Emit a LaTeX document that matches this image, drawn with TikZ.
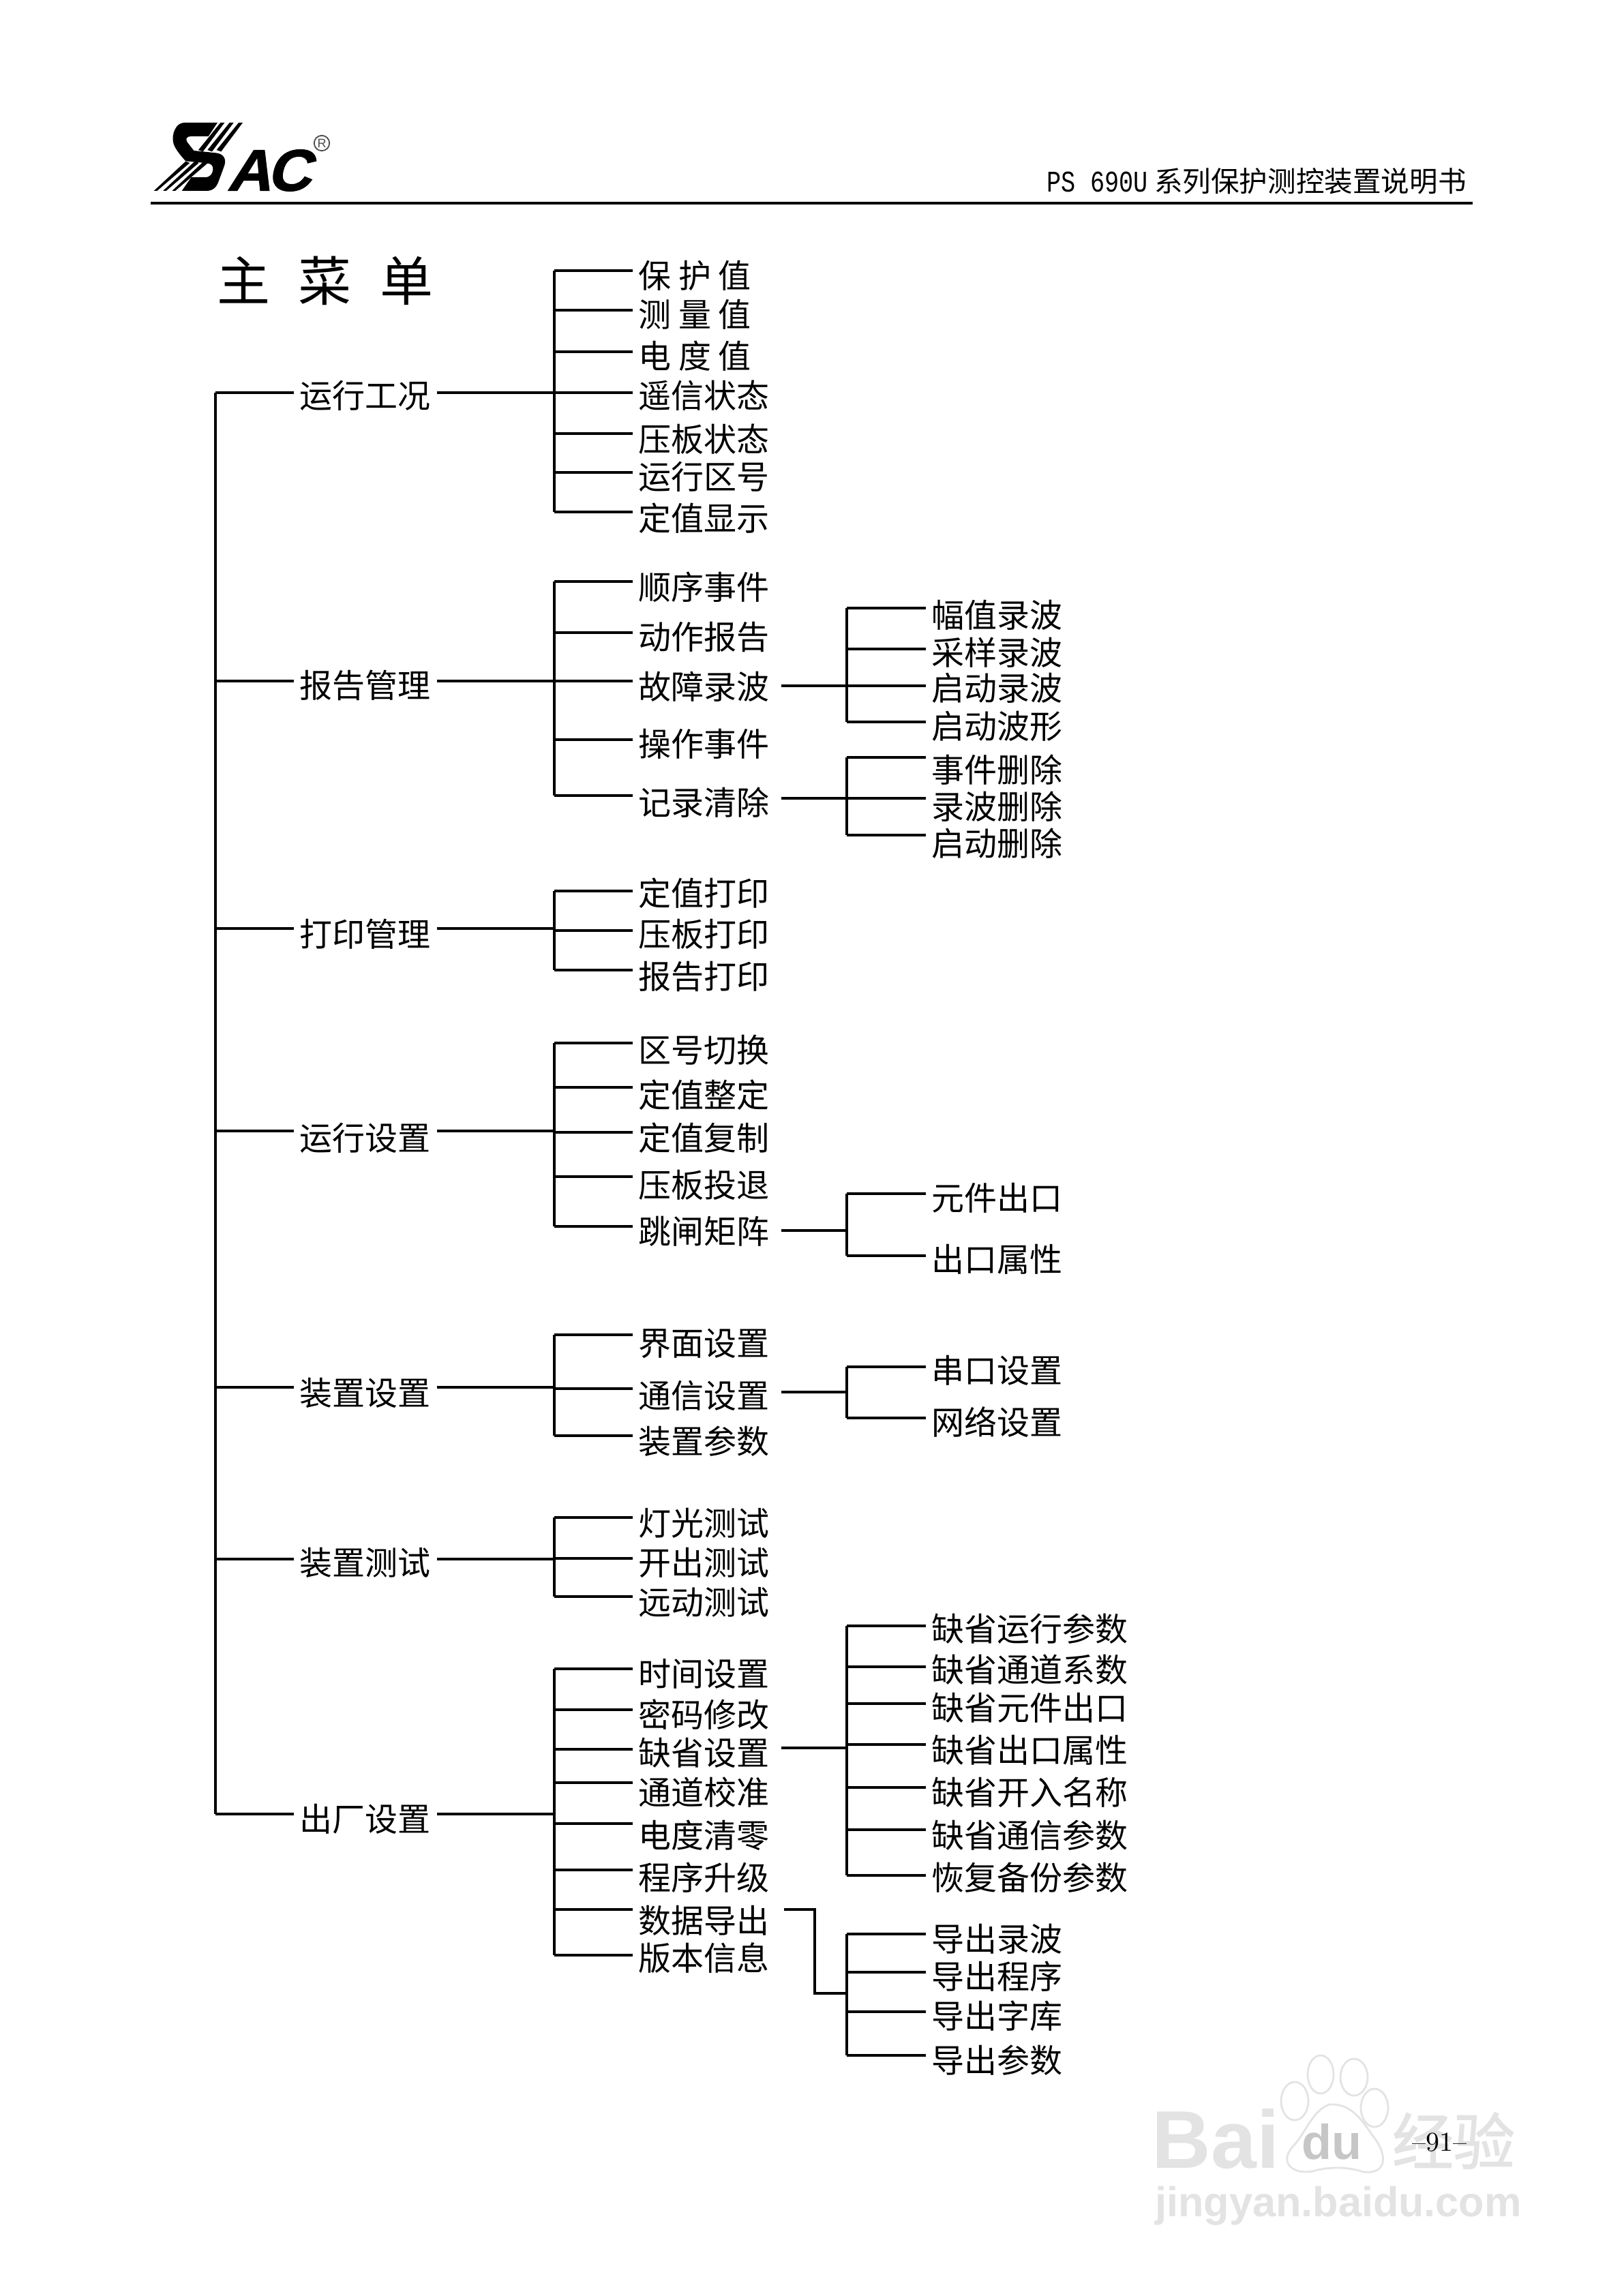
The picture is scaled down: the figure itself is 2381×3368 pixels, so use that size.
\documentclass[tikz,border=0pt]{standalone}
\usepackage{fontspec}
\setmainfont{Noto Sans CJK SC}
\newfontfamily\hdmono[FakeStretch=0.8]{Liberation Mono}
\newfontfamily\markfont{Liberation Sans}
\newfontfamily\logoac[FakeSlant=.25,FakeBold=1.5]{Liberation Sans}
\newfontfamily\pgfont{Latin Modern Roman}
\newfontfamily\wmcjk[FakeBold=1.5]{Noto Sans CJK SC}
\definecolor{wm}{gray}{0.89}
\tikzset{
  link/.style={line width=1pt,black,line cap=butt,line join=miter},
  label/.style={font=\fontsize{12}{12}\selectfont,inner xsep=2pt,inner ysep=0pt,anchor=west,text height=.88em,text depth=.12em,text=black},
  titletext/.style={font=\fontsize{19.5}{19.5}\selectfont,inner sep=0pt,anchor=center},
  wmline/.style={draw=wm,line width=.7pt,fill=white},
  wmtext/.style={text=wm,inner sep=0pt,anchor=center}
}
\newcommand{\leafnode}[6]{% name, trunk x, line y, text left, text y, text
  \coordinate (#1s) at (#2,#3);
  \node[label] (#1) at ({#4-10},{#5+2.5}) {#6};
  \draw[link] (#1s) -- (#1s -| #1.west);
}
\newcommand{\sx}{\hspace{2.6pt}}
\begin{document}
\begin{tikzpicture}[x=.25pt,y=-.25pt]
\useasboundingbox[fill=white] (0,0) rectangle (2381,3368);

% watermark
\node[wmtext,font=\markfont\bfseries\fontsize{30}{30}\selectfont] (wmbai) at (1783,3138) {Bai};
\node[wmtext,font=\wmcjk\fontsize{22.5}{22.5}\selectfont] (wmjy) at (2132,3140) {经验};
\node[wmtext,font=\markfont\bfseries\fontsize{15.3}{15.3}\selectfont] (wmurl) at (1963,3236) {jingyan.baidu.com};
\draw[wmline] (1899,3082) ellipse (20 and 28);
\draw[wmline] (1937,3043) ellipse (19 and 28);
\draw[wmline] (1986,3047) ellipse (20 and 27);
\draw[wmline] (2016,3092) ellipse (20 and 28);
\draw[wmline] (1950,3087) .. controls (1925,3095) and (1915,3130) .. (1895,3150)
  .. controls (1875,3175) and (1900,3190) .. (1925,3185)
  .. controls (1950,3178) and (1975,3178) .. (2000,3186)
  .. controls (2035,3190) and (2035,3160) .. (2015,3135)
  .. controls (2000,3115) and (1985,3085) .. (1950,3087) -- cycle;
\node[wmtext,text=gray!45,font=\markfont\bfseries\fontsize{18}{18}\selectfont] (wmdu) at (1953,3142) {du};

% logo: S monogram and stripes
\begin{scope}[shift={(215,165)},x=.25pt/3,y=-.25pt/3]
  \fill[black] (165,45) -- (312,45) -- (272,105) -- (195,105)
    .. controls (175,105) and (170,118) .. (180,132)
    -- (208,168) -- (305,178)
    .. controls (340,182) and (352,205) .. (342,235)
    -- (318,300)
    .. controls (308,330) and (292,345) .. (262,345)
    -- (155,345) -- (197,285) -- (258,285)
    .. controls (280,285) and (290,270) .. (292,252)
    .. controls (294,235) and (285,225) .. (265,223)
    -- (172,214)
    .. controls (150,190) and (125,160) .. (118,135)
    .. controls (108,95) and (130,45) .. (165,45) -- cycle;
  \foreach \dx in {0,40,80}{
    \fill[black] ({325+\dx},45) -- ({343+\dx},45) -- ({248+\dx},172) -- ({228+\dx},165) -- cycle;
  }
  \foreach \dx in {0,40,80}{
    \fill[black] ({32+\dx},345) -- ({46+\dx},345) -- ({190+\dx},222) -- ({172+\dx},215) -- cycle;
  }
\end{scope}
\node[inner sep=0pt,anchor=center,font=\logoac\bfseries\fontsize{21.5}{21.5}\selectfont,xscale=1.04] (logoAC) at (394,250) {A\kern-1.5pt C};
\node[circle,draw=gray!60!black,line width=.45pt,inner sep=0pt,minimum size=5.6pt,font=\markfont\fontsize{4.5}{4.5}\selectfont,text=gray!60!black] (logoR) at (472,210) {R};

% header
\node[anchor=west,inner sep=0pt,font=\fontsize{10.4}{10.4}\selectfont] (hdr) at (1535,266) {{\hdmono\fontsize{11}{11}\selectfont PS 690U} 系列保护测控装置说明书};
\coordinate (rl) at (221,298);
\coordinate (rr) at (2160,298);
\draw[line width=1pt] (rl) -- (rr);

% title
\node[titletext] (title) at (477,412) {主\hspace{10.5pt}菜\hspace{10.5pt}单};

% level 1
\leafnode{ra}{316}{576}{441}{581}{运行工况}
\leafnode{rb}{316}{999}{441}{1006}{报告管理}
\leafnode{rc}{316}{1362}{441}{1371}{打印管理}
\leafnode{rd}{316}{1659}{441}{1670}{运行设置}
\leafnode{re}{316}{2035}{441}{2044}{装置设置}
\leafnode{rf}{316}{2287}{441}{2293}{装置测试}
\leafnode{rg}{316}{2661}{441}{2669}{出厂设置}
\draw[link] (ras) -- (rgs);

% group A
\leafnode{aa}{813}{397}{938}{405}{保\sx 护\sx 值}
\leafnode{ab}{813}{455}{938}{462}{测\sx 量\sx 值}
\leafnode{ac}{813}{516}{938}{523}{电\sx 度\sx 值}
\leafnode{ad}{813}{576}{938}{581}{遥信状态}
\leafnode{ae}{813}{636}{938}{645}{压板状态}
\leafnode{af}{813}{693}{938}{700}{运行区号}
\leafnode{ag}{813}{751}{938}{761}{定值显示}
\draw[link] (aas) -- (ags);
\draw[link] (ra.east |- ras) -- (ras -| aas);

% group B
\leafnode{ba}{813}{853}{938}{862}{顺序事件}
\leafnode{bb}{813}{928}{938}{935}{动作报告}
\leafnode{bc}{813}{999}{938}{1008}{故障录波}
\leafnode{bd}{813}{1085}{938}{1092}{操作事件}
\leafnode{be}{813}{1167}{938}{1178}{记录清除}
\draw[link] (bas) -- (bes);
\draw[link] (rb.east |- rbs) -- (rbs -| bas);

\leafnode{bca}{1242}{892}{1368}{903}{幅值录波}
\leafnode{bcb}{1242}{952}{1368}{958}{采样录波}
\leafnode{bcc}{1242}{1006}{1368}{1010}{启动录波}
\leafnode{bcd}{1242}{1059}{1368}{1066}{启动波形}
\draw[link] (bcas) -- (bcds);
\draw[link] ([xshift=2pt]bc.east |- bccs) -- (bccs);

\leafnode{bea}{1242}{1111}{1368}{1130}{事件删除}
\leafnode{beb}{1242}{1171}{1368}{1184}{录波删除}
\leafnode{bec}{1242}{1225}{1368}{1238}{启动删除}
\draw[link] (beas) -- (becs);
\draw[link] ([xshift=2pt]be.east |- bebs) -- (bebs);

% group C
\leafnode{ca}{813}{1307}{938}{1311}{定值打印}
\leafnode{cb}{813}{1365}{938}{1371}{压板打印}
\leafnode{cc}{813}{1423}{938}{1433}{报告打印}
\draw[link] (cas) -- (ccs);
\draw[link] (rc.east |- rcs) -- (rcs -| cas);

% group D
\leafnode{da}{813}{1530}{938}{1541}{区号切换}
\leafnode{db}{813}{1595}{938}{1607}{定值整定}
\leafnode{dc}{813}{1661}{938}{1670}{定值复制}
\leafnode{dd}{813}{1726}{938}{1739}{压板投退}
\leafnode{de}{813}{1799}{938}{1807}{跳闸矩阵}
\draw[link] (das) -- (des);
\draw[link] (rd.east |- rds) -- (rds -| das);

\leafnode{dea}{1242}{1751}{1368}{1758}{元件出口}
\leafnode{deb}{1242}{1842}{1368}{1848}{出口属性}
\draw[link] (deas) -- (debs);
\coordinate (dem) at (1242,1805);
\draw[link] ([xshift=2pt]de.east |- dem) -- (dem);

% group E
\leafnode{ea}{813}{1958}{938}{1971}{界面设置}
\leafnode{eb}{813}{2037}{938}{2048}{通信设置}
\leafnode{ec}{813}{2106}{938}{2115}{装置参数}
\draw[link] (eas) -- (ecs);
\draw[link] (re.east |- res) -- (res -| eas);

\leafnode{eba}{1242}{2005}{1368}{2011}{串口设置}
\leafnode{ebb}{1242}{2080}{1368}{2087}{网络设置}
\draw[link] (ebas) -- (ebbs);
\coordinate (ebm) at (1242,2042);
\draw[link] ([xshift=2pt]eb.east |- ebm) -- (ebm);

% group F
\leafnode{fa}{813}{2226}{938}{2235}{灯光测试}
\leafnode{fb}{813}{2286}{938}{2293}{开出测试}
\leafnode{fc}{813}{2342}{938}{2351}{远动测试}
\draw[link] (fas) -- (fcs);
\draw[link] (rf.east |- rfs) -- (rfs -| fas);

% group G
\leafnode{ga}{813}{2448}{938}{2456}{时间设置}
\leafnode{gb}{813}{2508}{938}{2516}{密码修改}
\leafnode{gc}{813}{2566}{938}{2572}{缺省设置}
\leafnode{gd}{813}{2615}{938}{2630}{通道校准}
\leafnode{ge}{813}{2675}{938}{2693}{电度清零}
\leafnode{gf}{813}{2743}{938}{2755}{程序升级}
\leafnode{gg}{813}{2801}{938}{2818}{数据导出}
\leafnode{gh}{813}{2868}{938}{2873}{版本信息}
\draw[link] (gas) -- (ghs);
\draw[link] (rg.east |- rgs) -- (rgs -| gas);

\leafnode{gca}{1242}{2385}{1368}{2390}{缺省运行参数}
\leafnode{gcb}{1242}{2445}{1368}{2450}{缺省通道系数}
\leafnode{gcc}{1242}{2499}{1368}{2506}{缺省元件出口}
\leafnode{gcd}{1242}{2559}{1368}{2568}{缺省出口属性}
\leafnode{gce}{1242}{2622}{1368}{2630}{缺省开入名称}
\leafnode{gcf}{1242}{2684}{1368}{2693}{缺省通信参数}
\leafnode{gcg}{1242}{2751}{1368}{2755}{恢复备份参数}
\draw[link] (gcas) -- (gcgs);
\coordinate (gcm) at (1242,2564);
\draw[link] ([xshift=2pt]gc.east |- gcm) -- (gcm);

\leafnode{gga}{1242}{2837}{1368}{2845}{导出录波}
\leafnode{ggb}{1242}{2893}{1368}{2900}{导出程序}
\leafnode{ggc}{1242}{2951}{1368}{2958}{导出字库}
\leafnode{ggd}{1242}{3015}{1368}{3023}{导出参数}
\draw[link] (ggas) -- (ggds);
\coordinate (ggk) at (1195,2924);
\draw[link] ([xshift=3pt]gg.east |- ggs) -| (ggk) -- (ggk -| ggas);

% page number
\node[inner sep=0pt,font=\pgfont\fontsize{10}{10}\selectfont,text=black] (pg) at (2111,3143) {–91–};
\end{tikzpicture}
\end{document}
